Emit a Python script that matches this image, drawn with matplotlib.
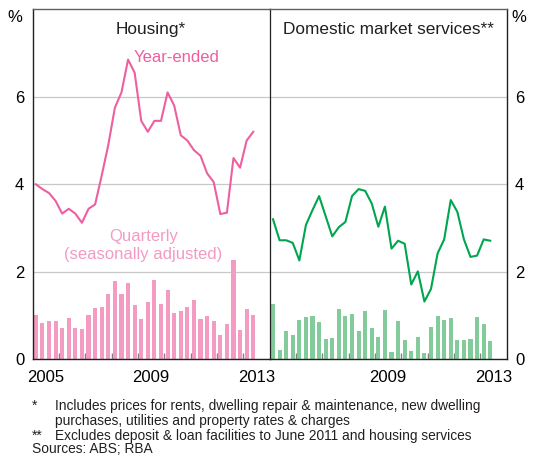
import numpy as np
import matplotlib
matplotlib.use('Agg')
import matplotlib.pyplot as plt

plt.rcParams['font.family'] = ['Liberation Sans', 'DejaVu Sans']

# quarterly, 2005 Q1 to 2013 Q2
quarters = np.arange(2005.125, 2013.5, 0.25)

housing_q = [1.01, 0.84, 0.87, 0.87, 0.72, 0.95, 0.72, 0.69, 1.01, 1.18,
             1.20, 1.49, 1.79, 1.49, 1.74, 1.24, 0.92, 1.31, 1.81, 1.27,
             1.58, 1.06, 1.10, 1.19, 1.35, 0.92, 0.99, 0.87, 0.56, 0.81,
             2.27, 0.67, 1.15, 1.01]
housing_ye = [4.00, 3.89, 3.80, 3.62, 3.33, 3.44, 3.33, 3.12, 3.44, 3.54,
              4.20, 4.90, 5.75, 6.10, 6.85, 6.55, 5.45, 5.20, 5.45, 5.45,
              6.10, 5.80, 5.12, 5.00, 4.78, 4.65, 4.25, 4.05, 3.32, 3.35,
              4.60, 4.38, 5.00, 5.20]

services_q = [1.27, 0.21, 0.65, 0.56, 0.90, 0.96, 0.98, 0.86, 0.47, 0.49,
              1.15, 0.99, 1.04, 0.65, 1.11, 0.72, 0.51, 1.13, 0.17, 0.88,
              0.44, 0.19, 0.51, 0.15, 0.74, 0.99, 0.90, 0.95, 0.44, 0.44,
              0.47, 0.97, 0.81, 0.42]
services_ye = [3.20, 2.72, 2.72, 2.66, 2.26, 3.07, 3.41, 3.73, 3.27, 2.81,
               3.02, 3.14, 3.73, 3.89, 3.85, 3.56, 3.03, 3.49, 2.53, 2.71,
               2.64, 1.71, 2.01, 1.32, 1.61, 2.42, 2.74, 3.64, 3.37, 2.74,
               2.34, 2.37, 2.74, 2.71]

yticks = [0, 2, 4, 6]
year_ticks = np.arange(2006, 2014)

pink_line = '#EE5FA0'
pink_bar = '#F39BC3'
green_line = '#00A54F'
green_bar = '#83CB9A'

fig = plt.figure(figsize=(5.34, 4.57), dpi=100)
ax1 = fig.add_axes([0.0609, 0.2138, 0.4442, 0.7659])
ax2 = fig.add_axes([0.5051, 0.2138, 0.4438, 0.7659])

panels = [
    (ax1, housing_q, housing_ye, pink_bar, pink_line, 'Housing*', [2005.5, 2009.5, 2013.5], ['2005', '2009', '2013']),
    (ax2, services_q, services_ye, green_bar, green_line, 'Domestic market services**', [2009.5, 2013.5], ['2009', '2013']),
]

for ax, q, ye, cbar, cline, title, lab_pos, lab_txt in panels:
    ax.bar(quarters, q, width=0.155, color=cbar, zorder=2)
    ax.plot(quarters, ye, color=cline, lw=1.5, zorder=3)
    ax.set_xlim(2005, 2014)
    ax.set_ylim(0, 8)
    ax.set_yticks(yticks)
    ax.grid(axis='y', color='#C8C8C8', lw=0.9, zorder=0)
    ax.set_axisbelow(True)
    ax.set_xticks(year_ticks)
    ax.set_xticklabels([])
    ax.tick_params(axis='x', which='major', direction='in', length=4, width=1, color='#808080')
    ax.set_xticks(lab_pos, minor=True)
    ax.set_xticklabels(lab_txt, minor=True, fontsize=12)
    ax.tick_params(axis='x', which='minor', length=0, pad=8)
    ax.tick_params(axis='y', length=0, labelsize=12, pad=6)
    ax.text(0.5, 0.965, title, transform=ax.transAxes, ha='center', va='top', fontsize=12.4, color='#231F20')
    for s in ax.spines.values():
        s.set_color('#231F20')
        s.set_linewidth(1)
    ax.spines['top'].set_color('#606060')

ax1.spines['right'].set_visible(False)
ax2.spines['left'].set_linewidth(0.9)
ax2.yaxis.tick_right()

ax1.text(2008.85, 6.9, 'Year-ended', color=pink_line, fontsize=12, va='center')
ax1.text(2009.2, 2.8, 'Quarterly', color=pink_bar, fontsize=12, ha='center', va='center')
ax1.text(2009.2, 2.39, '(seasonally adjusted)', color=pink_bar, fontsize=12, ha='center', va='center')

fig.text(15 / 534, 1 - 18 / 457, '%', fontsize=12, ha='center', va='center')
fig.text(519 / 534, 1 - 18 / 457, '%', fontsize=12, ha='center', va='center')

notes = [
    (32, 406, '*'),
    (55, 406, 'Includes prices for rents, dwelling repair & maintenance, new dwelling'),
    (55, 421, 'purchases, utilities and property rates & charges'),
    (32, 436, '**'),
    (55, 436, 'Excludes deposit & loan facilities to June 2011 and housing services'),
    (32, 449, 'Sources: ABS; RBA'),
]
for x, y, t in notes:
    fig.text(x / 534, 1 - y / 457, t, fontsize=9.9, ha='left', va='center', color='#231F20')

fig.savefig('out.png', dpi=100)
